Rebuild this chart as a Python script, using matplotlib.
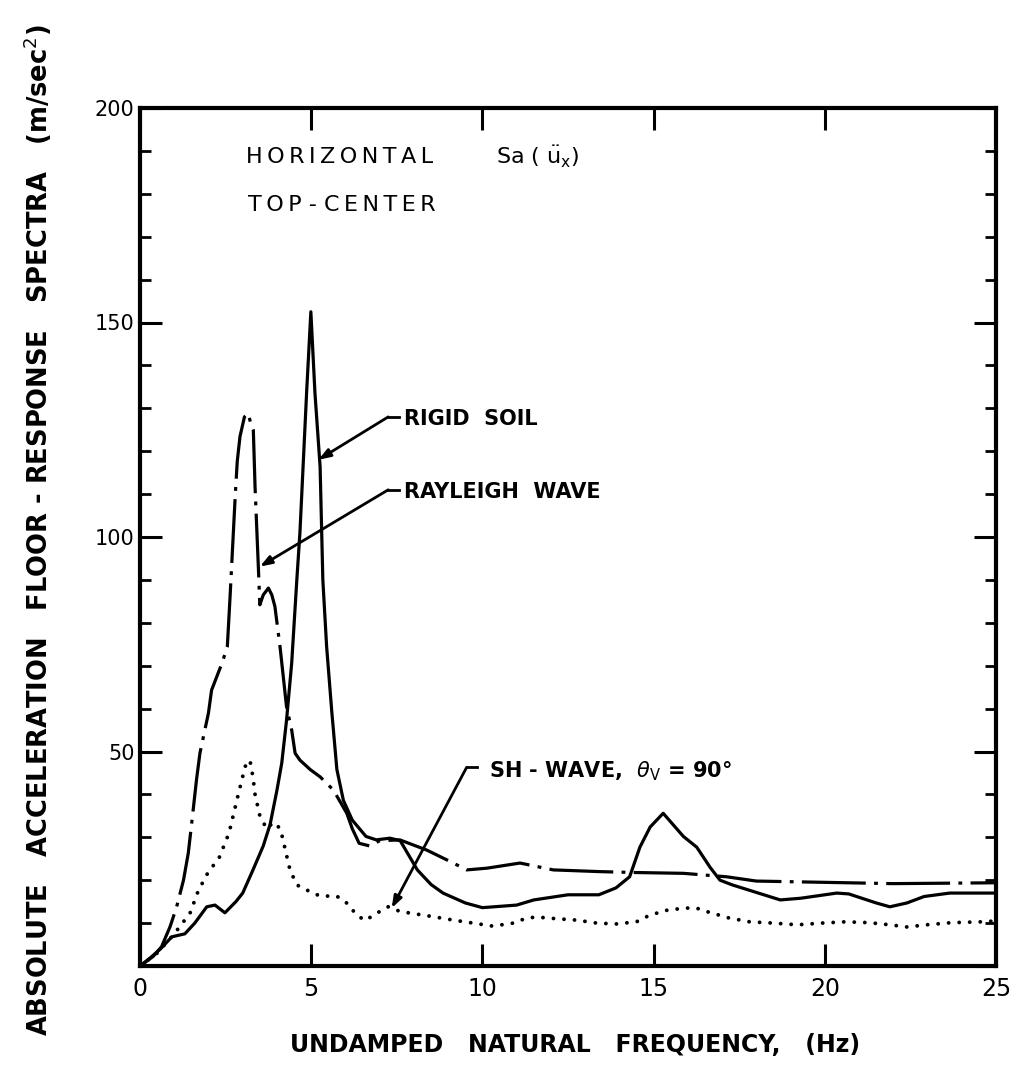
import matplotlib
matplotlib.use("Agg")
import matplotlib.pyplot as plt
from matplotlib.ticker import MultipleLocator

plt.rcParams['font.family'] = ['DejaVu Sans']
plt.rcParams['mathtext.fontset'] = 'dejavusans'

# ---------------- data ----------------
rigid_f = [0, 0.3, 0.6, 0.93, 1.31, 1.6, 1.95, 2.19, 2.48, 2.8, 3.0, 3.3, 3.6, 3.8,
           4.0, 4.14, 4.28, 4.43, 4.58, 4.67, 4.87, 4.99, 5.11, 5.26, 5.34, 5.45,
           5.6, 5.75, 5.94, 6.2, 6.6, 6.9, 7.3, 7.6, 8.1, 8.5, 8.85, 9.5, 10.0,
           11.0, 11.5, 12.5, 13.4, 13.9, 14.3, 14.6, 14.9, 15.28, 15.87, 16.26,
           16.65, 16.94, 17.3, 18.7, 19.3, 20.35, 20.7, 21.5, 21.9, 22.4, 22.9,
           23.65, 25.0]
rigid_sa = [0, 1.9, 4.0, 6.8, 7.5, 10.0, 13.8, 14.2, 12.4, 15.0, 17.0, 22.4, 28.0, 33.0,
            41.0, 47.3, 57.3, 70.6, 90.0, 100.9, 134.3, 152.5, 133.5, 116.4, 90.0, 74.5,
            59.4, 45.8, 38.6, 34.0, 30.2, 29.4, 29.8, 29.2, 22.4, 19.0, 17.0, 14.7, 13.6,
            14.2, 15.4, 16.6, 16.6, 18.2, 20.8, 27.7, 32.4, 35.6, 30.2, 27.7,
            23.0, 20.0, 18.9, 15.4, 15.8, 17.0, 16.8, 14.7, 13.8, 14.7, 16.2,
            17.0, 17.0]

rayleigh_f = [0, 0.38, 0.63, 0.88, 1.07, 1.27, 1.41, 1.51, 1.65, 1.75, 2.0, 2.09, 2.39,
              2.55, 2.63, 2.78, 2.84, 2.92, 3.05, 3.16, 3.25, 3.31, 3.36, 3.46, 3.5,
              3.6, 3.75, 3.85, 3.94, 4.09, 4.28, 4.43, 4.53, 4.67, 4.97, 5.26, 5.65,
              6.04, 6.2, 6.4, 6.7, 7.0, 7.59, 8.38, 9.15, 9.54, 10.13, 11.1, 12.07,
              13.43, 14.4, 15.87, 17.13, 18.0, 20.0, 22.0, 25.0]
rayleigh_sa = [0, 2.2, 4.5, 9.2, 13.8, 20.0, 26.3, 33.3, 43.4, 49.6, 59.0, 64.3, 70.5,
               74.4, 86.0, 109.4, 117.6, 123.4, 128.0, 128.8, 126.0, 124.9, 111.7, 92.3, 84.2,
               86.5, 88.1, 86.5, 83.8, 74.4, 60.4, 55.0, 49.6, 48.0, 45.8, 44.1, 41.0,
               35.6, 32.0, 28.6, 28.0, 29.2, 29.4, 27.0, 24.0, 22.4, 22.8, 24.0, 22.4,
               22.0, 21.8, 21.6, 20.8, 19.8, 19.5, 19.2, 19.4]

sh_f = [0, 0.5, 1.0, 1.46, 1.7, 1.84, 2.0, 2.3, 2.6, 2.87, 3.0, 3.07, 3.21, 3.3, 3.36,
        3.5, 3.7, 3.9, 4.1, 4.38, 4.58, 4.87, 5.26, 5.74, 6.0, 6.33, 6.57, 7.0, 7.25,
        7.6, 8.56, 9.15, 9.73, 10.3, 10.9, 11.3, 11.6, 12.2, 12.75, 13.34, 13.9, 14.5,
        14.8, 15.3, 15.9, 16.25, 16.55, 17.2, 17.8, 18.5, 19.2, 19.9, 20.6, 21.3,
        21.9, 22.4, 22.97, 23.7, 24.6, 25.0]
sh_sa = [0, 3.0, 7.5, 12.3, 17.5, 19.6, 22.0, 25.0, 31.0, 40.0, 44.2, 46.5, 48.0, 44.0, 40.0,
         35.0, 32.0, 33.5, 32.0, 22.4, 18.9, 17.7, 16.3, 16.3, 15.0, 11.9, 10.6, 12.7, 13.8,
         12.7, 11.5, 10.7, 10.0, 9.3, 10.0, 11.2, 11.4, 11.0, 10.7, 10.0, 9.8, 10.3,
         11.5, 12.9, 13.5, 13.5, 12.7, 11.2, 10.3, 10.0, 9.6, 10.0, 10.3, 10.1,
         9.6, 9.1, 9.6, 10.1, 10.3, 10.5]

x_ticks = [0, 5, 10, 15, 20, 25]
x_tick_labels = ["0", "5", "10", "15", "20", "25"]
y_ticks = [0, 50, 100, 150, 200]
y_tick_labels = ["", "50", "100", "150", "200"]


def spaced(s, sep="\u2009"):
    """Widen letter spacing like the hand-lettered original."""
    return sep.join(s)


# ---------------- figure ----------------
W, H = 1015, 1072
fig = plt.figure(figsize=(W / 100, H / 100), dpi=100)
x0, x1, y_top, y_bot = 140, 996, 108, 966
ax = fig.add_axes([x0 / W, (H - y_bot) / H, (x1 - x0) / W, (y_bot - y_top) / H])

ax.set_xlim(0, 25)
ax.set_ylim(0, 200)

lw = 2.3
ax.plot(rigid_f, rigid_sa, color='black', lw=lw, solid_joinstyle='round')
ax.plot(rayleigh_f, rayleigh_sa, color='black', lw=lw,
        linestyle=(0, (20, 2.6, 1.2, 2.6)), dash_capstyle='butt')
ax.plot(sh_f, sh_sa, color='black', lw=2.8,
        linestyle=(0, (0.01, 2.7)), dash_capstyle='round')

for s in ax.spines.values():
    s.set_linewidth(3.0)

ax.set_xticks(x_ticks)
ax.set_xticklabels(x_tick_labels, fontsize=17)
ax.set_yticks(y_ticks)
ax.set_yticklabels(y_tick_labels, fontsize=15)
ax.yaxis.set_minor_locator(MultipleLocator(10))
ax.tick_params(axis='both', which='major', direction='in', length=16, width=2.2,
               top=True, right=True, pad=8)
ax.tick_params(axis='y', which='minor', direction='in', length=8, width=2.0,
               left=True, right=True)
ax.tick_params(axis='y', which='major', pad=4)

# ---------------- annotations ----------------
tfont = dict(fontsize=16, color='black')
ax.text(3.1, 188.5, spaced("HORIZONTAL"), va='center', ha='left', **tfont)
ax.text(10.4, 188.5, r"Sa ( $\ddot{\mathrm{u}}_{\mathrm{x}}$)", va='center', ha='left', **tfont)
ax.text(3.15, 177.5, spaced("TOP") + " - " + spaced("CENTER"), va='center', ha='left', **tfont)

afont = dict(fontsize=15, fontweight='bold', color='black')
arrow = dict(arrowstyle='-|>,head_length=0.7,head_width=0.25', color='black',
             lw=2.0, shrinkA=0, shrinkB=0)

# RIGID SOIL
ax.plot([7.25, 7.55], [128, 128], color='black', lw=2.0)
ax.annotate("", xy=(5.21, 118), xytext=(7.25, 128), arrowprops=arrow)
ax.text(7.7, 127.5, "RIGID  SOIL", va='center', ha='left', **afont)

# RAYLEIGH WAVE
ax.plot([7.25, 7.55], [111, 111], color='black', lw=2.0)
ax.annotate("", xy=(3.5, 93.1), xytext=(7.25, 111), arrowprops=arrow)
ax.text(7.7, 110.5, "RAYLEIGH  WAVE", va='center', ha='left', **afont)

# SH-WAVE
ax.plot([9.54, 9.83], [46.3, 46.3], color='black', lw=2.0)
ax.annotate("", xy=(7.35, 13.5), xytext=(9.54, 46.3), arrowprops=arrow)
ax.text(10.2, 45.5, r"SH - WAVE,  $\theta_{\mathrm{V}}$ = 90°", va='center', ha='left', **afont)

# ---------------- axis titles ----------------
fig.text(38 / W, 1 - 530 / H,
         "ABSOLUTE   ACCELERATION   FLOOR - RESPONSE   SPECTRA   (m/sec$^{2}$)",
         rotation=90, ha='center', va='center', fontsize=18.5, fontweight='bold')
fig.text(575 / W, 1 - 1045 / H, "UNDAMPED   NATURAL   FREQUENCY,   (Hz)",
         ha='center', va='center', fontsize=17, fontweight='bold')

fig.savefig("out.png", dpi=100)
